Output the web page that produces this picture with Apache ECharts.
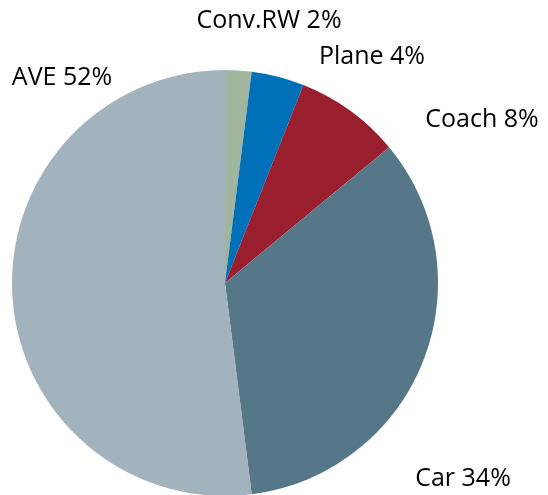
<!DOCTYPE html>
<html><head><meta charset="utf-8">
<script src="https://cdn.jsdelivr.net/npm/echarts@6/dist/echarts.min.js"></script>
<style>html,body{margin:0;padding:0;background:#fff}#c{width:548px;height:495px}</style>
</head><body><div id="c"></div>
<script>
const categories = ["Conv.RW", "Plane", "Coach", "Car", "AVE"];
const values = [2, 4, 8, 34, 52];
const colors = ["#a1b59f", "#0070b8", "#9a1f2e", "#557788", "#a2b3bd"];
const labelPos = [[269, 21], [372, 57], [482, 120], [463, 479], [62, 78]];

const chart = echarts.init(document.getElementById('c'), null, {renderer: 'canvas'});
chart.setOption({
  animation: false,
  series: [{
    type: 'pie',
    center: [225, 283],
    radius: [0, 213],
    startAngle: 90,
    clockwise: true,
    itemStyle: {borderWidth: 0},
    data: categories.map((n, i) => ({name: n, value: values[i], itemStyle: {color: colors[i]}})),
    label: {
      show: true, position: 'outside', overflow: 'none', width: 200,
      formatter: p => p.name + ' ' + p.value + '%',
      fontFamily: 'Open Sans', fontSize: 25, color: '#000'
    },
    labelLine: {show: false},
    labelLayout: function (p) {
      const pos = labelPos[p.dataIndex];
      return {x: pos[0], y: pos[1], align: 'center', verticalAlign: 'middle'};
    },
    emphasis: {disabled: true}
  }]
});
</script></body></html>
